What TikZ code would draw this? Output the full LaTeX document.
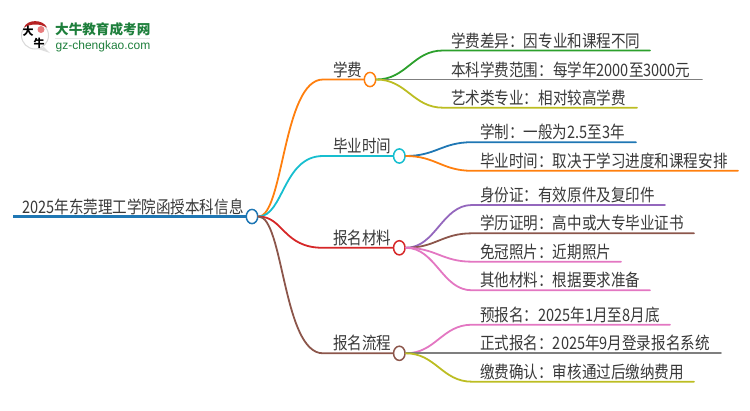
\documentclass[tikz,border=0pt]{standalone}
\usepackage{fontspec}
\usepackage{graphicx}
\usetikzlibrary{shapes.geometric}
\setmainfont{Noto Sans CJK SC}
\newfontfamily\logolatin{Liberation Sans}
\newcommand{\tallbox}[1]{\scalebox{1}[1.18]{#1}}
\definecolor{cblue}{HTML}{1F77B4}
\definecolor{corange}{HTML}{FF7F0E}
\definecolor{ccyan}{HTML}{17BECF}
\definecolor{cred}{HTML}{D62728}
\definecolor{cbrown}{HTML}{8C564B}
\definecolor{cgreen}{HTML}{2CA02C}
\definecolor{cgray}{HTML}{7F7F7F}
\definecolor{colive}{HTML}{BCBD22}
\definecolor{cpurple}{HTML}{9467BD}
\definecolor{cpink}{HTML}{E377C2}
\definecolor{txt}{HTML}{383838}
\definecolor{logogreen}{HTML}{1E7F3C}
\tikzset{
  lbl/.style={anchor=base west,inner sep=0pt,text=txt,font=\fontsize{14.55}{17}\selectfont},
  hub/.style={ellipse,draw=#1,fill=white,line width=1.5pt,minimum width=11.5pt,minimum height=14.2pt,inner sep=0pt},
  link/.style={draw=#1,line width=1.8pt,line cap=round,line join=round},
  twig/.style={draw=#1,line width=2pt,line cap=butt}
}
\begin{document}
\begin{tikzpicture}[x=1pt,y=-1pt]
\path[use as bounding box] (0,0) rectangle (750,410);
% logo
\fill[gray!25] (44,47) -- (50,53) -- (38,49) -- cycle;
\node[circle,draw=gray!30,fill=white,line width=1pt,minimum size=27pt,inner sep=0pt] (bubble) at (35,35.5) {};
\fill[cred!85!black] (24,27.5) .. controls (27,19) and (43,19) .. (47,27.5) .. controls (40,23.5) and (31,23.5) .. (24,27.5) -- cycle;
\fill[cred!60] (41,29.5) circle (3.5pt);
\node[inner sep=0pt,font=\fontsize{11}{11}\selectfont\bfseries] (da) at (28,31.5) {大};
\node[inner sep=0pt,font=\fontsize{11}{11}\selectfont\bfseries] (niu) at (39,43) {牛};
\node[anchor=base west,inner sep=0pt,text=logogreen,font=\fontsize{13.6}{15}\selectfont\bfseries] (logoa) at (55,34.5) {大牛教育成考网};
\draw[gray!20,line width=0.8pt] (55,38.5) -- (150,38.5);
\node[anchor=base west,inner sep=0pt,text=logogreen,font=\logolatin\fontsize{12}{13}\selectfont] (logob) at (55.5,49) {gz-chengkao.com};
% hubs
\node[hub=cblue] (root) at (252,216.5) {};
\node[hub=corange] (p1) at (370,79.5) {};
\node[hub=ccyan] (p2) at (399.3,156) {};
\node[hub=cred] (p3) at (399.3,247.8) {};
\node[hub=cbrown] (p4) at (399.3,353.3) {};
% elbow and end coordinates
\coordinate (r0) at (13,216.5);
\coordinate (e1) at (323,79.5);
\coordinate (e2) at (323,156);
\coordinate (e3) at (323,247.8);
\coordinate (e4) at (323,353.3);
\foreach \n/\y/\xa/\xb in {a/50.5/443/650,b/79.5/443/702,c/107.7/443/637}{
  \coordinate (\n s) at (\xa,\y); \coordinate (\n t) at (\xb,\y);}
\foreach \n/\y/\xb in {d/142.2/636,e/170.8/738,f/205/665,g/233.3/694,h/261.7/621,i/290.3/650,j/324.7/670,k/353.3/721,l/381.7/694}{
  \coordinate (\n s) at (472,\y); \coordinate (\n t) at (\xb,\y);}
% root
\draw[twig=cblue,line width=2.4pt] (r0) -- (root.west);
% main branches
\draw[link=corange] (root.east) .. controls +(25,0) and +(-40,0) .. (e1) -- (p1.west);
\draw[link=ccyan] (root.east) .. controls +(25,0) and +(-40,0) .. (e2) -- (p2.west);
\draw[link=cred] (root.east) .. controls +(25,0) and +(-40,0) .. (e3) -- (p3.west);
\draw[link=cbrown] (root.east) .. controls +(25,0) and +(-40,0) .. (e4) -- (p4.west);
% leaf branches
\draw[link=cgreen] (p1.east) .. controls +(30,0) and +(-30,0) .. (as) -- (at);
\draw[link=cgray] (p1.east) -- (bs) -- (bt);
\draw[link=colive] (p1.east) .. controls +(30,0) and +(-30,0) .. (cs) -- (ct);
\draw[link=cblue] (p2.east) .. controls +(30,0) and +(-30,0) .. (ds) -- (dt);
\draw[link=corange] (p2.east) .. controls +(30,0) and +(-30,0) .. (es) -- (et);
\draw[link=cpurple] (p3.east) .. controls +(30,0) and +(-30,0) .. (fs) -- (ft);
\draw[link=cbrown] (p3.east) .. controls +(30,0) and +(-30,0) .. (gs) -- (gt);
\draw[link=cpink] (p3.east) .. controls +(30,0) and +(-30,0) .. (hs) -- (ht);
\draw[link=cpink] (p3.east) .. controls +(30,0) and +(-30,0) .. (is) -- (it);
\draw[link=cpink] (p4.east) .. controls +(30,0) and +(-30,0) .. (js) -- (jt);
\draw[link=cgray] (p4.east) -- (ks) -- (kt);
\draw[link=colive] (p4.east) .. controls +(30,0) and +(-30,0) .. (ls) -- (lt);
% labels
\node[lbl] (troot) at (22,213) {\tallbox{2025年东莞理工学院函授本科信息}};
\node[lbl] (t1) at (333,76) {\tallbox{学费}};
\node[lbl] (t2) at (333,152.5) {\tallbox{毕业时间}};
\node[lbl] (t3) at (333,244.3) {\tallbox{报名材料}};
\node[lbl] (t4) at (333,349.8) {\tallbox{报名流程}};
\node[lbl] (la) at (451,47) {\tallbox{学费差异：因专业和课程不同}};
\node[lbl] (lb) at (451,76) {\tallbox{本科学费范围：每学年2000至3000元}};
\node[lbl] (lc) at (451,104.2) {\tallbox{艺术类专业：相对较高学费}};
\node[lbl] (ld) at (480,138.7) {\tallbox{学制：一般为2.5至3年}};
\node[lbl] (le) at (480,167.3) {\tallbox{毕业时间：取决于学习进度和课程安排}};
\node[lbl] (lf) at (480,201.5) {\tallbox{身份证：有效原件及复印件}};
\node[lbl] (lg) at (480,229.8) {\tallbox{学历证明：高中或大专毕业证书}};
\node[lbl] (lh) at (480,258.2) {\tallbox{免冠照片：近期照片}};
\node[lbl] (li) at (480,286.8) {\tallbox{其他材料：根据要求准备}};
\node[lbl] (lj) at (480,321.2) {\tallbox{预报名：2025年1月至8月底}};
\node[lbl] (lk) at (480,349.8) {\tallbox{正式报名：2025年9月登录报名系统}};
\node[lbl] (ll) at (480,378.2) {\tallbox{缴费确认：审核通过后缴纳费用}};
\end{tikzpicture}
\end{document}
